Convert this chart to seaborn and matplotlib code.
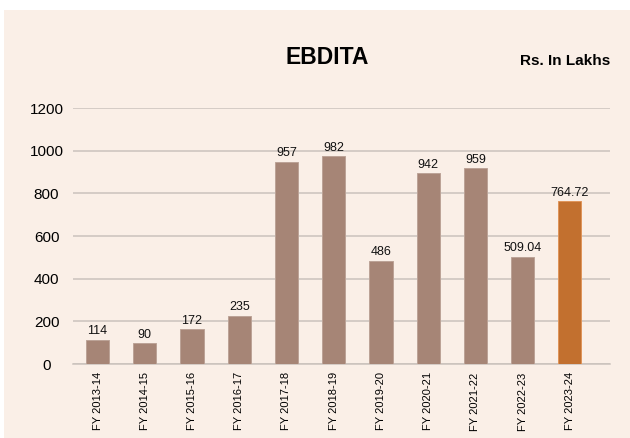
import matplotlib
matplotlib.use('Agg')
import matplotlib.pyplot as plt
import seaborn as sns
import pandas as pd
from matplotlib.patches import Rectangle

YEARS = ['FY 2013-14', 'FY 2014-15', 'FY 2015-16', 'FY 2016-17', 'FY 2017-18',
         'FY 2018-19', 'FY 2019-20', 'FY 2020-21', 'FY 2021-22', 'FY 2022-23',
         'FY 2023-24']
# bar heights as drawn in the picture
HEIGHTS = [114, 98, 163, 227, 948, 973, 485, 895, 917, 502, 762]
# value labels as printed above the bars
LABELS = ['114', '90', '172', '235', '957', '982', '486', '942', '959', '509.04', '764.72']
Y_TICKS = [0, 200, 400, 600, 800, 1000, 1200]

BG = '#FAEFE7'
BAR = '#A68576'
BAR_EDGE = '#BCA397'
HIGHLIGHT = '#C2702F'
HIGHLIGHT_EDGE = '#E0955A'
GRID = '#CAC2BC'

sns.set_theme(style='white')
plt.rcParams['font.family'] = ['Liberation Sans', 'DejaVu Sans']

df = pd.DataFrame({'Year': YEARS, 'EBDITA': HEIGHTS})
colors = [BAR] * (len(YEARS) - 1) + [HIGHLIGHT]
edges = [BAR_EDGE] * (len(YEARS) - 1) + [HIGHLIGHT_EDGE]

fig = plt.figure(figsize=(6.3, 4.38), dpi=100, facecolor='white')
# peach panel, leaves a thin white strip on top and left
panel = Rectangle((4 / 630, 0), 1, (438 - 10) / 438,
                  transform=fig.transFigure, facecolor=BG,
                  edgecolor='none', zorder=-10)
fig.add_artist(panel)

ax = fig.add_axes([73 / 630, (438 - 364) / 438, (610 - 73) / 630, (364 - 108) / 438])
ax.set_facecolor('none')
ax.set_zorder(1)
sns.barplot(data=df, x='Year', y='EBDITA', hue='Year', palette=colors,
            legend=False, width=0.49, saturation=1, ax=ax, zorder=3,
            linewidth=0.7)
for bar, ec in zip(ax.patches, edges):
    bar.set_edgecolor(ec)

for i, txt in enumerate(LABELS):
    ax.text(i, HEIGHTS[i] + 12, txt, ha='center', va='bottom', fontsize=9, color='#111111')

ax.set_ylim(0, 1200)
ax.set_xlim(-0.52, 10.85)
ax.set_yticks(Y_TICKS)
ax.set_yticklabels([str(v) for v in Y_TICKS], fontsize=11, color='black', ha='center')
ax.yaxis.grid(True, color=GRID, linewidth=1.1, zorder=0)
ax.set_axisbelow(True)
ax.tick_params(axis='y', length=0, pad=19)
ax.tick_params(axis='x', length=0, pad=6)
ax.set_xticks(range(len(YEARS)))
ax.set_xticklabels(YEARS, rotation=90, fontsize=8, color='black')
ax.set_xlabel('')
ax.set_ylabel('')
for side in ['top', 'right', 'left']:
    ax.spines[side].set_visible(False)
ax.spines['bottom'].set_color(GRID)
ax.spines['bottom'].set_linewidth(1.1)

fig.text(327 / 630, 1 - 57 / 438, 'EBDITA', ha='center', va='center',
         fontsize=16.5, fontweight='bold', color='black')
fig.text(610 / 630, 1 - 61 / 438, 'Rs. In Lakhs', ha='right', va='center',
         fontsize=11, fontweight='bold', color='black')

fig.savefig('out.png', dpi=100, facecolor=fig.get_facecolor())
